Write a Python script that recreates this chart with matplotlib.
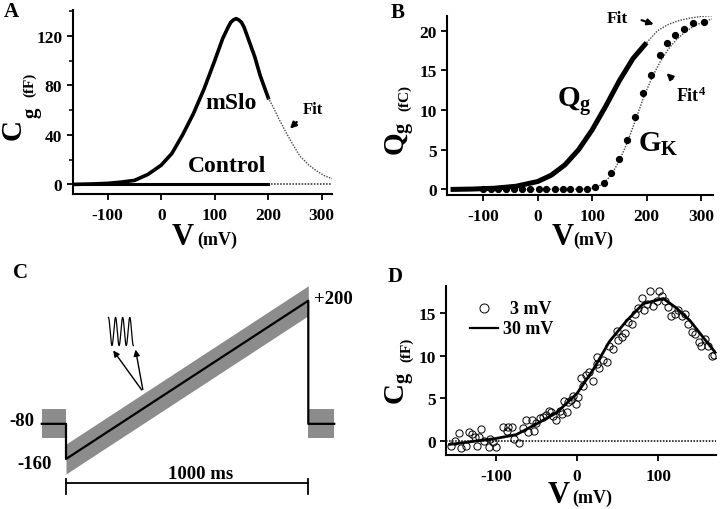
import numpy as np
import matplotlib
matplotlib.use('Agg')
import matplotlib.pyplot as plt

plt.rcParams['font.family'] = 'Liberation Serif'
plt.rcParams['font.weight'] = 'bold'
plt.rcParams['axes.unicode_minus'] = False

# ---- data ----
# A: gating capacitance mSlo / control
mslo_v = [-160, -130, -100, -75, -50, -25, 0, 20, 40, 60, 80, 100, 115, 125, 130, 135, 140, 145, 150, 155,
          165, 175, 185, 195, 200]
mslo_c = [0, 0.3, 0.8, 1.8, 3.2, 8, 15.5, 25, 40, 57, 77, 100, 118, 127, 131, 133, 134, 133, 131, 127,
          115, 103, 88, 76, 70]
mslo_fit_v = [200, 210, 220, 232, 245, 259, 275, 290, 305, 320]
mslo_fit_c = [70, 62, 53, 43, 33, 23, 16, 11, 7, 4.5]
ctrl_v = [-160, 200]
ctrl_c = [0, 0]
ctrl_fit_v = [200, 320]
ctrl_fit_c = [0, 0]

# B: gating charge and conductance
qg_v = [-160, -120, -80, -40, 0, 25, 50, 75, 100, 125, 150, 175, 200]
qg_q = [0.0, 0.05, 0.15, 0.4, 1.0, 1.8, 3.1, 5.0, 7.5, 10.5, 13.7, 16.5, 18.5]
qg_fit_v = [200, 220, 240, 260, 280, 300, 320]
qg_fit_q = [18.5, 20.0, 20.8, 21.3, 21.6, 21.8, 21.9]
gk_v = [-100, -86, -72, -58, -44, -29, -14, 2, 16, 31, 46, 60, 75, 90,
        106, 121, 135, 150, 164, 179, 194, 209, 224, 238, 252, 268, 285, 305]
gk_g = [0, 0, 0, 0, 0, 0, 0, 0, 0, 0, 0, 0, 0, 0.05,
        0.25, 0.84, 2.06, 3.8, 6.2, 9.1, 12.1, 14.4, 16.9, 18.4, 19.5, 20.2, 21.0, 21.1]
fit4_v = [-100, 0, 90, 105, 120, 135, 150, 165, 180, 195, 210, 225, 240, 255, 270, 285, 300, 320]
fit4_g = [0, 0, 0.05, 0.2, 0.7, 1.8, 3.6, 6.0, 8.8, 11.7, 14.1, 16.1, 17.7, 18.9, 19.8, 20.5, 21.0, 21.5]

# C: voltage protocol
prot_t = [-100, 0, 0, 1000, 1000, 1107]
prot_v = [-80, -80, -160, 200, -80, -80]
ramp_t = [0, 1000]
ramp_v = [-160, 200]
hold_left_t = [-100, 0]
hold_right_t = [1000, 1107]
hold_v = -80

# D: 3 mV vs 30 mV resolution
d3_v = [-156, -151, -145, -143, -137, -133, -130, -126, -124, -121, -118, -115, -109, -107, -104, -100,
        -91, -87, -85, -80, -78, -72, -67, -63, -60, -56, -53, -51, -46, -42, -38, -35, -32, -30,
        -26, -21, -18.5, -16.5, -13, -11, -8, -5, -1.6, 1.2, 5.3, 7.4, 10.7, 14.8, 19.8, 23.9, 24.7,
        27, 32, 36.2, 39.5, 44, 48.6, 50.6, 54.7, 58.8, 63, 67, 71, 75, 79.4, 82.3, 85.6, 89.7,
        93.8, 98, 101, 104, 108, 112, 115, 120.6, 124.7, 128.8, 133, 137, 141, 145, 150, 152,
        157.6, 161.7, 166, 168.7]
d3_c = [-0.55, 0.04, 0.93, -0.86, -0.55, 1.1, 0.78, 0.5, -0.55, 0.5, 1.44, 0.0, -0.7, 0.23, -0.16, -0.74,
        1.67, 1.2, 1.6, 1.6, 0.23, -0.23, 1.52, 2.5, 1.0, 2.5, 1.13, 2.06, 2.65, 2.77, 3.1, 3.55, 3.4, 2.9,
        2.45, 3.55, 3.2, 4.7, 3.35, 4.6, 4.8, 5.3, 4.3, 5.2, 7.4, 6.5, 7.7, 8.1, 7.05, 9.0, 9.9,
        8.5, 9.5, 9.3, 11.1, 10.75, 12.9, 11.8, 12.2, 12.7, 13.9, 13.7, 14.9, 15.6, 16.8, 15.4, 16.1, 17.6,
        15.8, 16.4, 17.6, 17.0, 16.4, 15.7, 14.7, 14.85, 15.3, 14.7, 14.9, 13.7, 12.8, 12.5, 11.6, 11.1,
        11.9, 11.1, 10.0, 10.05]
d30_v = [-157, -100, -75, -50, -25, 0, 20, 40, 61, 81.5, 94, 106, 122, 139, 155.6, 170]
d30_c = [-0.4, 0.3, 0.75, 2.0, 3.35, 5.6, 8.4, 11.7, 14.1, 16.1, 16.4, 16.7, 15.6, 14.1, 12.1, 10.4]

fig = plt.figure(figsize=(7.2, 5.1), dpi=100)


def axes_px(l, t, r, b, **kw):
    return fig.add_axes([l / 720, 1 - b / 510, (r - l) / 720, (b - t) / 510], **kw)


def ftext(x, y, s, **kw):
    fig.text(x / 720, 1 - y / 510, s, **kw)


def style(ax):
    for s in ['top', 'right']:
        ax.spines[s].set_visible(False)
    for s in ['left', 'bottom']:
        ax.spines[s].set_linewidth(1.5)
    ax.tick_params(direction='out', length=4.5, width=1.3, labelsize=12.5)
    ax.tick_params(axis='x', pad=5)
    ax.tick_params(axis='y', pad=3)
    ax.tick_params(which='minor', direction='out', length=3, width=1.1)


dot = (0, (1, 1))
gray = '#8c8c8c'

# ---------------- A ----------------
axA = axes_px(72.7, 11, 332.4, 195)
axA.plot(mslo_v, mslo_c, color='k', lw=2.6, solid_joinstyle='round')
axA.plot(mslo_fit_v, mslo_fit_c, color='#444', lw=1.0, ls=dot)
axA.plot(ctrl_v, ctrl_c, color='k', lw=2.2)
axA.plot(ctrl_fit_v, ctrl_fit_c, color='#222', lw=1.1, ls=dot)
axA.set_xlim(-165.4, 320)
axA.set_ylim(-7.8, 141)
axA.set_xticks([-100, 0, 100, 200, 300])
axA.set_yticks([0, 40, 80, 120])
axA.set_yticks([20, 60, 100, 140], minor=True)
style(axA)
axA.text(130, 66, 'mSlo', fontsize=17, ha='center', va='center')
axA.text(124, 15, 'Control', fontsize=17, ha='center', va='center')
axA.text(283, 61, 'Fit', fontsize=12, ha='center', va='center')
axA.annotate('', xy=(237, 43.5), xytext=(257, 52),
             arrowprops=dict(arrowstyle='-|>', color='k', lw=1.6, mutation_scale=9))

# ---------------- B ----------------
axB = axes_px(447.3, 16.7, 713, 196)
axB.plot(fit4_v, fit4_g, color='#444', lw=1.0, ls=dot)
axB.plot(qg_v, qg_q, color='k', lw=3.6, solid_capstyle='butt')
axB.plot(qg_fit_v, qg_fit_q, color='#444', lw=1.0, ls=dot)
axB.plot(gk_v, gk_g, 'o', color='k', ms=4.2)
axB.set_xlim(-166, 322)
axB.set_ylim(-0.7, 21.9)
axB.set_xticks([-100, 0, 100, 200, 300])
axB.set_yticks([0, 5, 10, 15, 20])
style(axB)
axB.text(147, 21.55, 'Fit', fontsize=12.5, ha='center', va='center')
axB.annotate('', xy=(218, 20.7), xytext=(186, 21.45),
             arrowprops=dict(arrowstyle='-|>', color='k', lw=1.6, mutation_scale=9))
axB.text(281, 11.9, r'$\mathregular{Fit^4}$', fontsize=13, ha='center', va='center')
axB.annotate('', xy=(233, 14.9), xytext=(251, 13.7),
             arrowprops=dict(arrowstyle='-|>', color='k', lw=1.6, mutation_scale=9))
axB.text(67, 11.2, r'$\mathregular{Q_g}$', fontsize=21, ha='center', va='center')
axB.text(222, 5.8, r'$\mathregular{G_K}$', fontsize=21, ha='center', va='center')

# ---------------- C ----------------
axC = axes_px(0, 270, 360, 510)
axC.set_xlim(-272.4, 1213.4)
axC.set_ylim(-273.7, 272.1)
axC.axis('off')
axC.fill_between(ramp_t, [v - 34 for v in ramp_v], [v + 34 for v in ramp_v], color=gray, lw=0)
axC.fill_between(hold_left_t, hold_v - 33, hold_v + 33, color=gray, lw=0)
axC.fill_between(hold_right_t, hold_v - 33, hold_v + 33, color=gray, lw=0)
axC.plot(prot_t, prot_v, color='k', lw=1.6)
axC.text(-183, -73, '-80', fontsize=13.5, ha='center', va='center')
axC.text(-128, -171, '-160', fontsize=13.5, ha='center', va='center')
axC.text(1103, 204, '+200', fontsize=13.5, ha='center', va='center')
axC.text(557, -192, '1000 ms', fontsize=13.5, ha='center', va='center')
axC.plot(ramp_t, [-215, -215], color='k', lw=1.3)
for t in ramp_t:
    axC.plot([t, t], [-206, -240], color='k', lw=1.3)
for hx, hy in [(188, 92), (285, 95)]:
    axC.annotate('', xy=(hx, hy), xytext=(319, -8),
                 arrowprops=dict(arrowstyle='-|>', color='k', lw=1.0, mutation_scale=9))
wt = np.linspace(175, 278, 200)
axC.plot(wt, 130 + 32 * np.cos(2 * np.pi * 3.5 * (wt - 175) / 103), color='k', lw=0.9)

# ---------------- D ----------------
axD = axes_px(446, 286.7, 716, 456)
axD.axhline(0, color='k', lw=1.1, ls=dot)
axD.plot(d3_v, d3_c, 'o', mfc='none', mec='k', mew=0.7, ms=5.2)
axD.plot(d30_v, d30_c, color='k', lw=2.0)
axD.set_xlim(-161.6, 171)
axD.set_ylim(-1.64, 18.2)
axD.set_xticks([-100, 0, 100])
axD.set_yticks([0, 5, 10, 15])
style(axD)
axD.plot([0.142], [0.867], 'o', mfc='none', mec='k', mew=0.7, ms=6.5, transform=axD.transAxes, clip_on=False)
axD.plot([0.089, 0.194], [0.75, 0.75], color='k', lw=1.6, transform=axD.transAxes, clip_on=False)
axD.text(0.391, 0.867, '3 mV', fontsize=13, ha='right', va='center', transform=axD.transAxes)
axD.text(0.396, 0.75, '30 mV', fontsize=13, ha='right', va='center', transform=axD.transAxes)

# ---------------- axis labels ----------------
for xv, xm, base in [(183, 197, 245), (562.5, 573, 245), (559, 572, 503)]:
    ftext(xv, base, 'V', fontsize=22, ha='center', va='baseline')
    ftext(xm, base, '(mV)', fontsize=13, ha='left', va='baseline')

# panel A: C, g and unit drawn apart as in the original
ftext(13, 129, 'C', fontsize=21, rotation=90, ha='center', va='center')
ftext(31, 113, 'g', fontsize=15, rotation=90, ha='center', va='center')
ftext(30, 85, '(fF)', fontsize=11, rotation=90, ha='center', va='center')
# panels B and D
ftext(399, 139, r'$\mathregular{Q_g}$', fontsize=21, rotation=90, ha='center', va='center')
ftext(405, 98, '(fC)', fontsize=11, rotation=90, ha='center', va='center')
ftext(399, 388, r'$\mathregular{C_g}$', fontsize=21, rotation=90, ha='center', va='center')
ftext(407, 350, '(fF)', fontsize=11, rotation=90, ha='center', va='center')

# ---------------- panel letters ----------------
for x, y, s in [(11.7, 11.7, 'A'), (398, 12.5, 'B'), (20, 272.5, 'C'), (395, 277.5, 'D')]:
    ftext(x, y, s, fontsize=15, ha='center', va='center')

fig.savefig('out.png', dpi=100)
